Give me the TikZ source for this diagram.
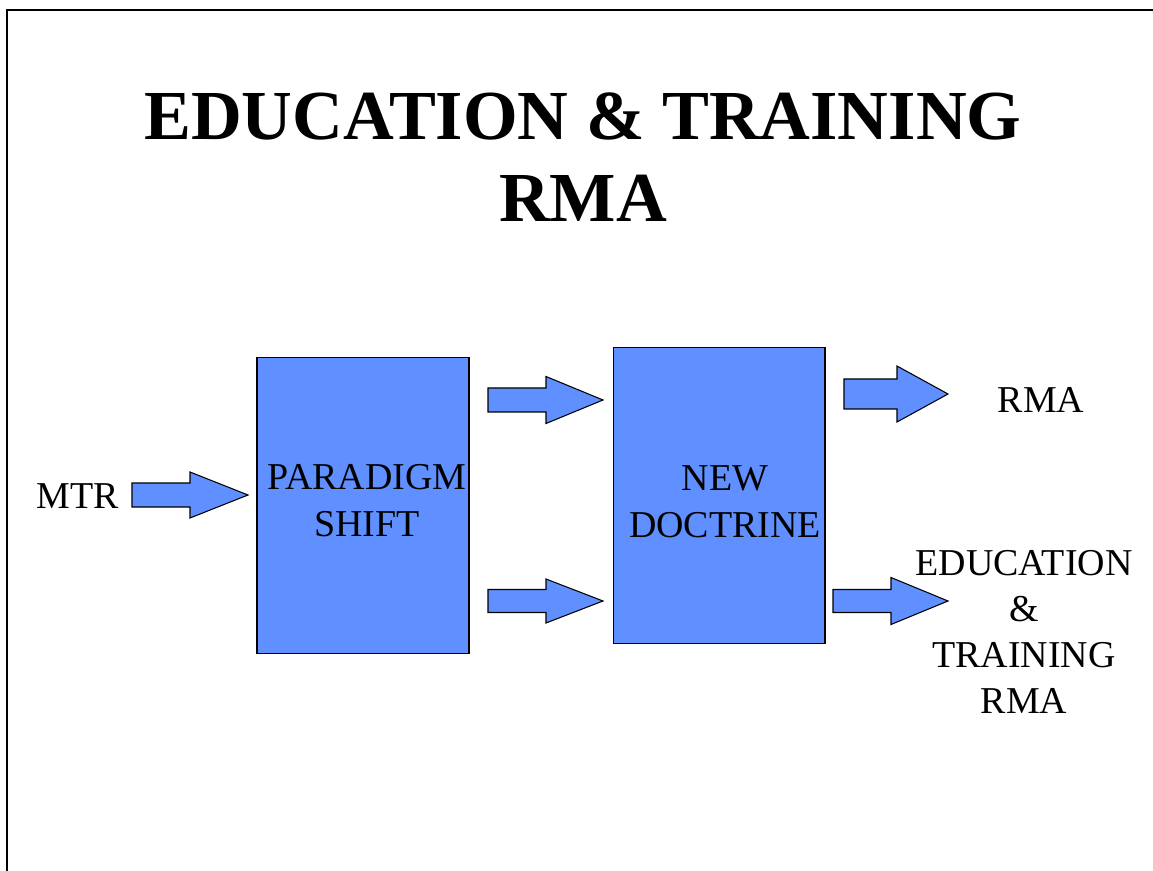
\documentclass[tikz,border=0pt]{standalone}
\usepackage{fontspec}
\setmainfont{Liberation Serif}

\definecolor{slideblue}{RGB}{96,143,255}

\tikzset{
  panel/.style={draw=black, fill=slideblue, line width=0.6pt,
    minimum width=4.24cm, minimum height=5.94cm, inner sep=0pt},
  fatarrow/.style={draw=black, fill=slideblue, line width=0.6pt, line join=miter},
  txt/.style={inner sep=0pt, align=center, font=\fontsize{21.6}{26.1}\selectfont},
  boxtxt/.style={inner sep=0pt, align=center, font=\fontsize{21.6}{26.6}\selectfont},
  headline/.style={inner sep=0pt, align=center, font=\fontsize{40}{46.5}\selectfont\bfseries}
}

% tail x, head base x, tip x, centre y, shaft half, head half
\newcommand{\blockarrow}[6]{%
  \filldraw[fatarrow] ({#1},{#4-#5}) -- ({#2},{#4-#5}) -- ({#2},{#4-#6}) -- ({#3},{#4})
    -- ({#2},{#4+#6}) -- ({#2},{#4+#5}) -- ({#1},{#4+#5}) -- cycle;}

\begin{document}
\begin{tikzpicture}[x=0.02cm, y=-0.02cm]
  \useasboundingbox (0,0) rectangle (1153,871);
  \draw[line width=0.6pt] (7,871) -- (7,10) -- (1153,10);

  \node[headline] (title) at (583,157) {EDUCATION \& TRAINING\\RMA};

  \node[panel] (shift) at (363,505.5) {};
  \node[panel] (doctrine) at (719,495.5) {};
  \node[boxtxt] (shifttxt) at ([shift={(4,-5)}]shift.center) {PARADIGM\\SHIFT};
  \node[boxtxt] (doctrinetxt) at ([shift={(6,6)}]doctrine.center) {NEW\\DOCTRINE};

  \node[txt, anchor=east] (mtr) at (119,496) {MTR};
  \node[txt] (rma) at (1041,400) {RMA};
  \node[txt] (edu) at (1024,632) {EDUCATION\\\&\\TRAINING\\RMA};

  \blockarrow{132}{190}{248}{495}{12}{23}
  \blockarrow{488}{546}{603}{400}{12}{23.5}
  \blockarrow{488}{546}{603}{601}{11.5}{22}
  \blockarrow{844}{897}{948}{394}{15}{28}
  \blockarrow{833}{891}{948}{601}{11.5}{23.5}
\end{tikzpicture}
\end{document}
